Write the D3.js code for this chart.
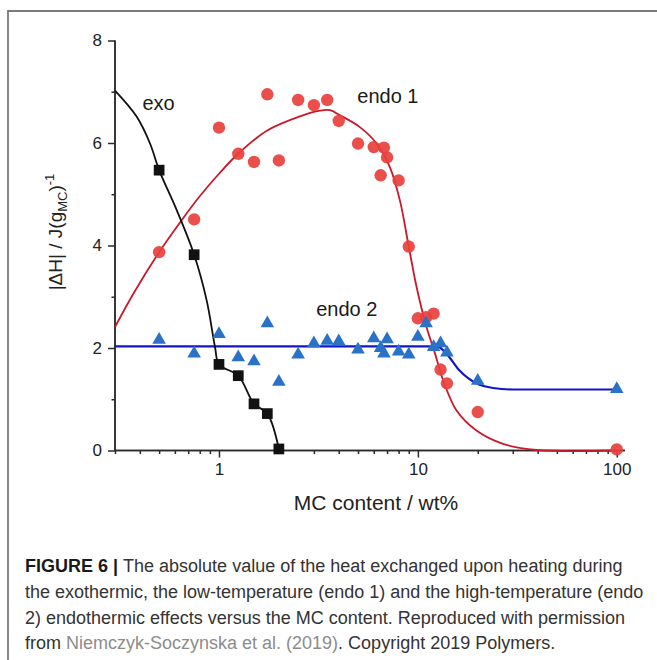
<!DOCTYPE html>
<html>
<head>
<meta charset="utf-8">
<script src="https://cdn.jsdelivr.net/npm/d3@7/dist/d3.min.js"></script>
<style>
  html, body { margin: 0; padding: 0; background: #fff; }
  svg { display: block; font-family: "Liberation Sans", Arial, sans-serif; }
</style>
</head>
<body>
<svg id="chart" width="657" height="660"></svg>
<script>
// ---- data ----
const mcContent = [0.5, 0.75, 1, 1.25, 1.5, 1.75, 2, 2.5, 3, 3.5, 4, 5, 6, 6.5, 6.75, 7, 8, 9, 10, 11, 12, 13, 14, 20, 100];

const exoX = [0.5, 0.75, 1, 1.25, 1.5, 1.75, 2];
const exoY = [5.47, 3.82, 1.68, 1.46, 0.91, 0.72, 0.03];

const endo1Y = [3.87, 4.51, 6.30, 5.79, 5.63, 6.95, 5.66, 6.84, 6.74, 6.84, 6.43, 5.99, 5.92, 5.37, 5.91, 5.72, 5.27, 3.98, 2.58, 2.60, 2.67, 1.58, 1.31, 0.75, 0.02];
const endo2Y = [2.16, 1.89, 2.27, 1.82, 1.74, 2.48, 1.34, 1.87, 2.09, 2.14, 2.13, 1.97, 2.19, 2.00, 1.89, 2.17, 1.93, 1.87, 2.22, 2.48, 2.02, 2.09, 1.91, 1.36, 1.20];

// fitted curves
const exoFitX = [0.3, 0.386, 0.45, 0.5, 0.613, 0.75, 0.867, 0.955, 1, 1.25, 1.5, 1.75, 2];
const exoFitY = [7.02, 6.51, 5.99, 5.47, 4.69, 3.82, 2.93, 2.02, 1.68, 1.46, 0.91, 0.72, 0.03];

const endo1FitX = [0.3, 0.371, 0.5, 0.637, 0.8, 1, 1.24, 1.74, 2.55, 3.22, 3.61, 4.06, 5.11, 6.2, 7.23, 8.12, 8.94, 9.85, 11.05, 12.2, 13.4, 15.65, 19.7, 26.8, 39.5, 100];
const endo1FitY = [2.41, 3.06, 3.87, 4.45, 4.96, 5.40, 5.78, 6.24, 6.52, 6.63, 6.64, 6.54, 6.31, 5.99, 5.53, 4.88, 4.04, 3.19, 2.41, 1.89, 1.37, 0.78, 0.39, 0.13, 0.01, 0];

const endo2FitX = [0.3, 12.5, 13.9, 16.2, 19.7, 23.9, 30, 35.3, 50, 100];
const endo2FitY = [2.03, 2.03, 1.89, 1.56, 1.31, 1.22, 1.19, 1.19, 1.19, 1.19];

const xMajor = [1, 10, 100];
const xMinor = [0.3, 0.4, 0.5, 0.6, 0.7, 0.8, 0.9, 2, 3, 4, 5, 6, 7, 8, 9, 20, 30, 40, 50, 60, 70, 80, 90];
const yMajor = [0, 2, 4, 6, 8];
const yMinor = [1, 3, 5, 7];

const seriesLabels = [
  { text: "exo", x: 0.412, y: 6.65 },
  { text: "endo 1", x: 4.96, y: 6.78 },
  { text: "endo 2", x: 3.08, y: 2.62 }
];

const captionLines = [
  [{ t: "FIGURE 6 | ", bold: true }, { t: "The absolute value of the heat exchanged upon heating during" }],
  [{ t: "the exothermic, the low-temperature (endo 1) and the high-temperature (endo" }],
  [{ t: "2) endothermic effects versus the MC content. Reproduced with permission" }],
  [{ t: "from " }, { t: "Niemczyk-Soczynska et al. (2019)", link: true }, { t: ". Copyright 2019 Polymers." }]
];

// ---- layout ----
const svg = d3.select("#chart");
const x = d3.scaleLog().domain([0.3, 110]).range([115, 625]);
const y = d3.scaleLinear().domain([0, 8]).range([450.5, 40.5]);

const axisColor = "#2a2a2a";
const red = "#e8403c", redLine = "#c8192b";
const blue = "#2a72c8", blueLine = "#1414c8";

// figure frame (left + top edge only visible)
svg.append("path")
  .attr("d", "M8,660V11H657")
  .attr("fill", "none")
  .attr("stroke", "#7a7a7a")
  .attr("stroke-width", 1.8);

// ---- axes ----
const xAxisG = svg.append("g").attr("transform", `translate(0,${y(0)})`);
xAxisG.call(d3.axisBottom(x).tickValues(xMajor).tickSize(7).tickPadding(5).tickFormat(d3.format("d")));
const xMinorG = svg.append("g").attr("transform", `translate(0,${y(0)})`);
xMinorG.call(d3.axisBottom(x).tickValues(xMinor).tickSize(3.5).tickFormat(""));

const yAxisG = svg.append("g").attr("transform", `translate(${x(0.3)},0)`);
yAxisG.call(d3.axisLeft(y).tickValues(yMajor).tickSize(7).tickPadding(6).tickFormat(d3.format("d")));
const yMinorG = svg.append("g").attr("transform", `translate(${x(0.3)},0)`);
yMinorG.call(d3.axisLeft(y).tickValues(yMinor).tickSize(3.5).tickFormat(""));

[xAxisG, xMinorG, yAxisG, yMinorG].forEach(g => {
  g.select(".domain").attr("stroke", axisColor).attr("stroke-width", 1.5);
  g.selectAll(".tick line").attr("stroke", axisColor).attr("stroke-width", 1.5);
  g.selectAll(".tick text")
    .attr("fill", "#222")
    .style("font-size", "17px")
    .style("font-family", "Liberation Sans, Arial, sans-serif");
});
// d3 axes add outer ticks; hide them
[xAxisG, xMinorG].forEach(g => g.select(".domain").attr("d", `M${x(0.3)},0H${x(110)}`));
[yAxisG, yMinorG].forEach(g => g.select(".domain").attr("d", `M0,${y(0)}V${y(8)}`));

// axis titles
svg.append("text")
  .attr("x", 376)
  .attr("y", 510)
  .attr("text-anchor", "middle")
  .attr("fill", "#222")
  .style("font-size", "21px")
  .text("MC content / wt%");

const yTitle = svg.append("text")
  .attr("transform", "translate(62,232) rotate(-90)")
  .attr("text-anchor", "middle")
  .attr("fill", "#222")
  .style("font-size", "19px");
yTitle.append("tspan").text("|\u0394H| / J(g");
yTitle.append("tspan").attr("dy", 5).style("font-size", "13px").text("MC");
yTitle.append("tspan").attr("dy", -5).text(")");
yTitle.append("tspan").attr("dy", -8).style("font-size", "13px").text("-1");

// ---- fitted curves ----
const smooth = d3.line()
  .x(d => x(d[0]))
  .y(d => y(d[1]))
  .curve(d3.curveCatmullRom.alpha(0.5));
const monotone = d3.line()
  .x(d => x(d[0]))
  .y(d => y(d[1]))
  .curve(d3.curveMonotoneX);

const fits = [
  { xs: endo1FitX, ys: endo1FitY, color: redLine, w: 1.8, gen: smooth },
  { xs: endo2FitX, ys: endo2FitY, color: blueLine, w: 2.2, gen: monotone },
  { xs: exoFitX, ys: exoFitY, color: "#111", w: 1.8, gen: smooth }
];

svg.append("g")
  .selectAll("path")
  .data(fits)
  .join("path")
  .attr("fill", "none")
  .attr("stroke", d => d.color)
  .attr("stroke-width", d => d.w)
  .attr("d", d => d.gen(d.xs.map((v, i) => [v, d.ys[i]])));

// ---- markers ----
svg.append("g")
  .selectAll("circle")
  .data(mcContent.map((v, i) => [v, endo1Y[i]]))
  .join("circle")
  .attr("cx", d => x(d[0]))
  .attr("cy", d => y(d[1]))
  .attr("r", 6.2)
  .attr("fill", red)
  .attr("fill-opacity", 0.92);

const tri = d3.symbol().type(d3.symbolTriangle).size(80);
svg.append("g")
  .selectAll("path")
  .data(mcContent.map((v, i) => [v, endo2Y[i]]))
  .join("path")
  .attr("transform", d => `translate(${x(d[0])},${y(d[1])})`)
  .attr("d", tri)
  .attr("fill", blue);

const sq = d3.symbol().type(d3.symbolSquare).size(115);
svg.append("g")
  .selectAll("path")
  .data(exoX.map((v, i) => [v, exoY[i]]))
  .join("path")
  .attr("transform", d => `translate(${x(d[0])},${y(d[1])})`)
  .attr("d", sq)
  .attr("fill", "#111");

// series labels
svg.append("g")
  .selectAll("text")
  .data(seriesLabels)
  .join("text")
  .attr("x", d => x(d.x))
  .attr("y", d => y(d.y))
  .attr("fill", "#1a1a1a")
  .style("font-size", "20px")
  .text(d => d.text);

// ---- caption ----
const cap = svg.append("g")
  .style("font-family", "Liberation Sans, Arial, sans-serif")
  .style("font-size", "18px");

captionLines.forEach((parts, i) => {
  const t = cap.append("text")
    .attr("x", 25)
    .attr("y", 572 + i * 25.8)
    .attr("fill", "#333");
  parts.forEach(p => {
    t.append("tspan")
      .attr("font-weight", p.bold ? "bold" : null)
      .attr("fill", p.link ? "#8c8c8c" : (p.bold ? "#1a1a1a" : "#333"))
      .text(p.t);
  });
});
</script>
</body>
</html>
